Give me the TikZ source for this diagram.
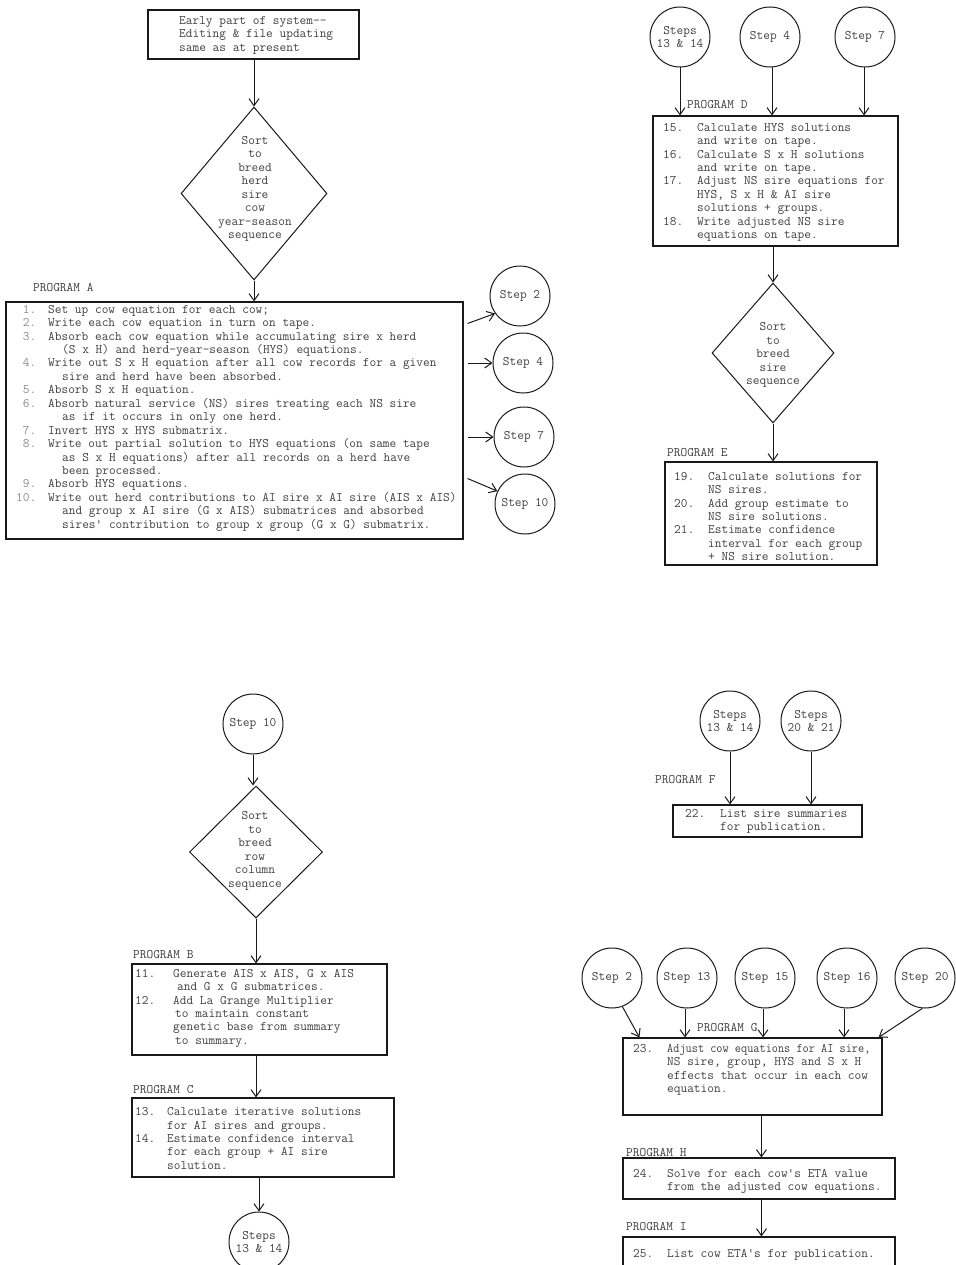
\documentclass[tikz,border=0pt]{standalone}
\usepackage{fontspec}
\setmonofont{Latin Modern Mono}
\usetikzlibrary{arrows.meta,shapes.geometric,calc,fit}
\newcommand{\numline}[3]{\strut\makebox[#1][l]{#2}#3}
\newcommand{\contline}[2]{\strut\hspace*{#1}#2}
\newcommand{\aline}[2]{\strut\makebox[26pt][r]{\textcolor{black!45}{#1}}\hspace*{12pt}#2}
\begin{document}
\begin{tikzpicture}[x=1pt,y=-1pt,
  every node/.style={font=\ttfamily\fontsize{13}{13.45}\selectfont, text=black!75},
  box/.style={draw=black!90, line width=1.1pt, rectangle, inner sep=0pt},
  dia/.style={draw=black!90, line width=1pt, diamond, inner sep=0pt},
  stepc/.style={draw=black!90, line width=1pt, circle, minimum size=60pt, inner sep=0pt, align=center},
  tb/.style={anchor=north west, inner sep=0pt, align=left},
  ctext/.style={inner sep=0pt, align=center},
  lbl/.style={anchor=west, inner sep=0pt},
  arr/.style={draw=black!90, line width=1pt, -{Straight Barb[length=7pt,width=10pt,line width=1pt]}}
]
\useasboundingbox (0,0) rectangle (955,1265);

% ---------------- top-left column ----------------
\node[box, fit={(148,10) (359,59)}] (top) {};
\node[tb] (toptxt) at (179,14.5) {\strut Early part of system--\\\strut Editing \& file updating\\\strut same as at present};

\node[dia, minimum width=146pt, minimum height=173pt] (dia1) at (254,193.5) {};
\node[ctext] (dia1txt) at (255,189) {Sort\\to\\breed\\herd\\sire\\cow\\year-season\\sequence};

\node[lbl] (labA) at (33,288) {PROGRAM A};
\node[box, fit={(6,302) (463,539)}] (boxA) {};
\node[tb] (txtA) at (10,303.5) {%
\aline{1.}{Set up cow equation for each cow;}\\
\aline{2.}{Write each cow equation in turn on tape.}\\
\aline{3.}{Absorb each cow equation while accumulating sire x herd}\\
\contline{52pt}{(S x H) and herd-year-season (HYS) equations.}\\
\aline{4.}{Write out S x H equation after all cow records for a given}\\
\contline{52pt}{sire and herd have been absorbed.}\\
\aline{5.}{Absorb S x H equation.}\\
\aline{6.}{Absorb natural service (NS) sires treating each NS sire}\\
\contline{52pt}{as if it occurs in only one herd.}\\
\aline{7.}{Invert HYS x HYS submatrix.}\\
\aline{8.}{Write out partial solution to HYS equations (on same tape}\\
\contline{52pt}{as S x H equations) after all records on a herd have}\\
\contline{52pt}{been processed.}\\
\aline{9.}{Absorb HYS equations.}\\
\aline{10.}{Write out herd contributions to AI sire x AI sire (AIS x AIS)}\\
\contline{52pt}{and group x AI sire (G x AIS) submatrices and absorbed}\\
\contline{52pt}{sires' contribution to group x group (G x G) submatrix.}};

\node[stepc] (s2) at (520,296) {Step 2};
\node[stepc] (s4) at (523,363) {Step 4};
\node[stepc] (s7) at (524,437) {Step 7};
\node[stepc] (s10) at (525,504) {Step 10};

\draw[arr] (top.south -| dia1.north) -- (dia1.north);
\draw[arr] (dia1.south) -- (dia1.south |- boxA.north);
\draw[arr] ($(boxA.east |- s2.south)+(4,-3)$) -- (s2.215);
\draw[arr] ($(boxA.east |- s4.west)+(4,0)$) -- (s4.west);
\draw[arr] ($(boxA.east |- s7.west)+(4,0)$) -- (s7.west);
\draw[arr] ($(boxA.east |- s10.north)+(4,5)$) -- (s10.155);

% ---------------- top-right column ----------------
\node[stepc] (d13) at (680,37) {Steps\\13 \& 14};
\node[stepc] (d4) at (770,37) {Step 4};
\node[stepc] (d7) at (865,37) {Step 7};
\node[lbl] (labD) at (687,105) {PROGRAM D};
\node[box, fit={(653,116) (898,246)}] (boxD) {};
\node[tb] (txtD) at (663,121.5) {%
\numline{34pt}{15.}{Calculate HYS solutions}\\
\contline{34pt}{and write on tape.}\\
\numline{34pt}{16.}{Calculate S x H solutions}\\
\contline{34pt}{and write on tape.}\\
\numline{34pt}{17.}{Adjust NS sire equations for}\\
\contline{34pt}{HYS, S x H \& AI sire}\\
\contline{34pt}{solutions + groups.}\\
\numline{34pt}{18.}{Write adjusted NS sire}\\
\contline{34pt}{equations on tape.}};
\draw[arr] (d13.south) -- (d13.south |- boxD.north);
\draw[arr] ([xshift=2pt]d4.south) -- ([xshift=2pt]d4.south |- boxD.north);
\draw[arr] ([xshift=-1pt]d7.south) -- ([xshift=-1pt]d7.south |- boxD.north);

\node[dia, minimum width=122pt, minimum height=140pt] (diaD) at (773,353) {};
\node[ctext] (diaDtxt) at (773,355) {Sort\\to\\breed\\sire\\sequence};
\draw[arr] (diaD.north |- boxD.south) -- (diaD.north);

\node[lbl] (labE) at (667,453) {PROGRAM E};
\node[box, fit={(665,462) (877,565)}] (boxE) {};
\node[tb] (txtE) at (674,470.5) {%
\numline{34pt}{19.}{Calculate solutions for}\\
\contline{34pt}{NS sires.}\\
\numline{34pt}{20.}{Add group estimate to}\\
\contline{34pt}{NS sire solutions.}\\
\numline{34pt}{21.}{Estimate confidence}\\
\contline{34pt}{interval for each group}\\
\contline{34pt}{+ NS sire solution.}};
\draw[arr] (diaD.south) -- (diaD.south |- boxE.north);

% ---------------- bottom-left column ----------------
\node[stepc] (b10) at (253,724) {Step 10};
\node[dia, minimum width=133pt, minimum height=132pt] (diaB) at (256,852) {};
\node[ctext] (diaBtxt) at (255,851) {Sort\\to\\breed\\row\\column\\sequence};
\draw[arr] (b10.south) -- (b10.south |- diaB.north);

\node[lbl] (labB) at (133,955) {PROGRAM B};
\node[box, fit={(132,964) (387,1055)}] (boxB) {};
\node[tb] (txtB) at (135,967.5) {%
\numline{38pt}{11.}{Generate AIS x AIS, G x AIS}\\
\contline{42pt}{and G x G submatrices.}\\
\numline{38pt}{12.}{Add La Grange Multiplier}\\
\contline{40pt}{to maintain constant}\\
\contline{38pt}{genetic base from summary}\\
\contline{40pt}{to summary.}};
\draw[arr] (diaB.south) -- (diaB.south |- boxB.north);

\node[lbl] (labC) at (133,1090) {PROGRAM C};
\node[box, fit={(132,1098) (394,1177)}] (boxC) {};
\node[tb] (txtC) at (135,1106) {%
\numline{32pt}{13.}{Calculate iterative solutions}\\
\contline{32pt}{for AI sires and groups.}\\
\numline{32pt}{14.}{Estimate confidence interval}\\
\contline{32pt}{for each group + AI sire}\\
\contline{32pt}{solution.}};
\draw[arr] (diaB.south |- boxB.south) -- (diaB.south |- boxC.north);

\node[stepc] (c1314) at (259,1242) {Steps\\13 \& 14};
\draw[arr] (c1314.north |- boxC.south) -- (c1314.north);

% ---------------- bottom-right column ----------------
\node[stepc] (f1314) at (730,721) {Steps\\13 \& 14};
\node[stepc] (f2021) at (811,721) {Steps\\20 \& 21};
\node[lbl] (labF) at (655,780) {PROGRAM F};
\node[box, fit={(673,805) (862,837)}] (boxF) {};
\node[tb] (txtF) at (685,807.5) {%
\numline{35pt}{22.}{List sire summaries}\\
\contline{35pt}{for publication.}};
\draw[arr] (f1314.south) -- (f1314.south |- boxF.north);
\draw[arr] (f2021.south) -- (f2021.south |- boxF.north);

\node[stepc] (g2) at (612,978) {Step 2};
\node[stepc] (g13) at (687,978) {Step 13};
\node[stepc] (g15) at (765,978) {Step 15};
\node[stepc] (g16) at (847,978) {Step 16};
\node[stepc] (g20) at (925,978) {Step 20};
\node[lbl] (labG) at (697,1028) {PROGRAM G};
\node[box, fit={(623,1038) (882,1115)}] (boxG) {};
\node[tb] (txtG) at (633,1042.5) {%
\numline{34pt}{23.}{\scalebox{0.92}[1]{Adjust cow equations for AI sire,}}\\
\contline{34pt}{NS sire, group, HYS and S x H}\\
\contline{34pt}{effects that occur in each cow}\\
\contline{34pt}{equation.}};
\draw[arr] (g2.290) -- ($(boxG.north west)+(17,0)$);
\draw[arr] ([xshift=-2pt]g13.south) -- ([xshift=-2pt]g13.south |- boxG.north);
\draw[arr] ([xshift=-2pt]g15.south) -- ([xshift=-2pt]g15.south |- boxG.north);
\draw[arr] ([xshift=-3pt]g16.south) -- ([xshift=-3pt]g16.south |- boxG.north);
\draw[arr] (g20.265) -- ($(boxG.north east)+(-4,0)$);

\node[lbl] (labH) at (626,1153) {PROGRAM H};
\node[box, fit={(623,1158) (895,1199)}] (boxH) {};
\node[tb] (txtH) at (633,1167.5) {%
\numline{34pt}{24.}{Solve for each cow's ETA value}\\
\contline{34pt}{from the adjusted cow equations.}};
\draw[arr] ($(boxG.south west)+(139,0)$) -- ($(boxH.north west)+(139,0)$);

\node[lbl] (labI) at (626,1227) {PROGRAM I};
\node[box, fit={(623,1237) (895,1272)}] (boxI) {};
\node[tb] (txtI) at (633,1247.5) {%
\numline{34pt}{25.}{List cow ETA's for publication.}};
\draw[arr] ($(boxH.south west)+(139,0)$) -- ($(boxI.north west)+(139,0)$);
\end{tikzpicture}
\end{document}
